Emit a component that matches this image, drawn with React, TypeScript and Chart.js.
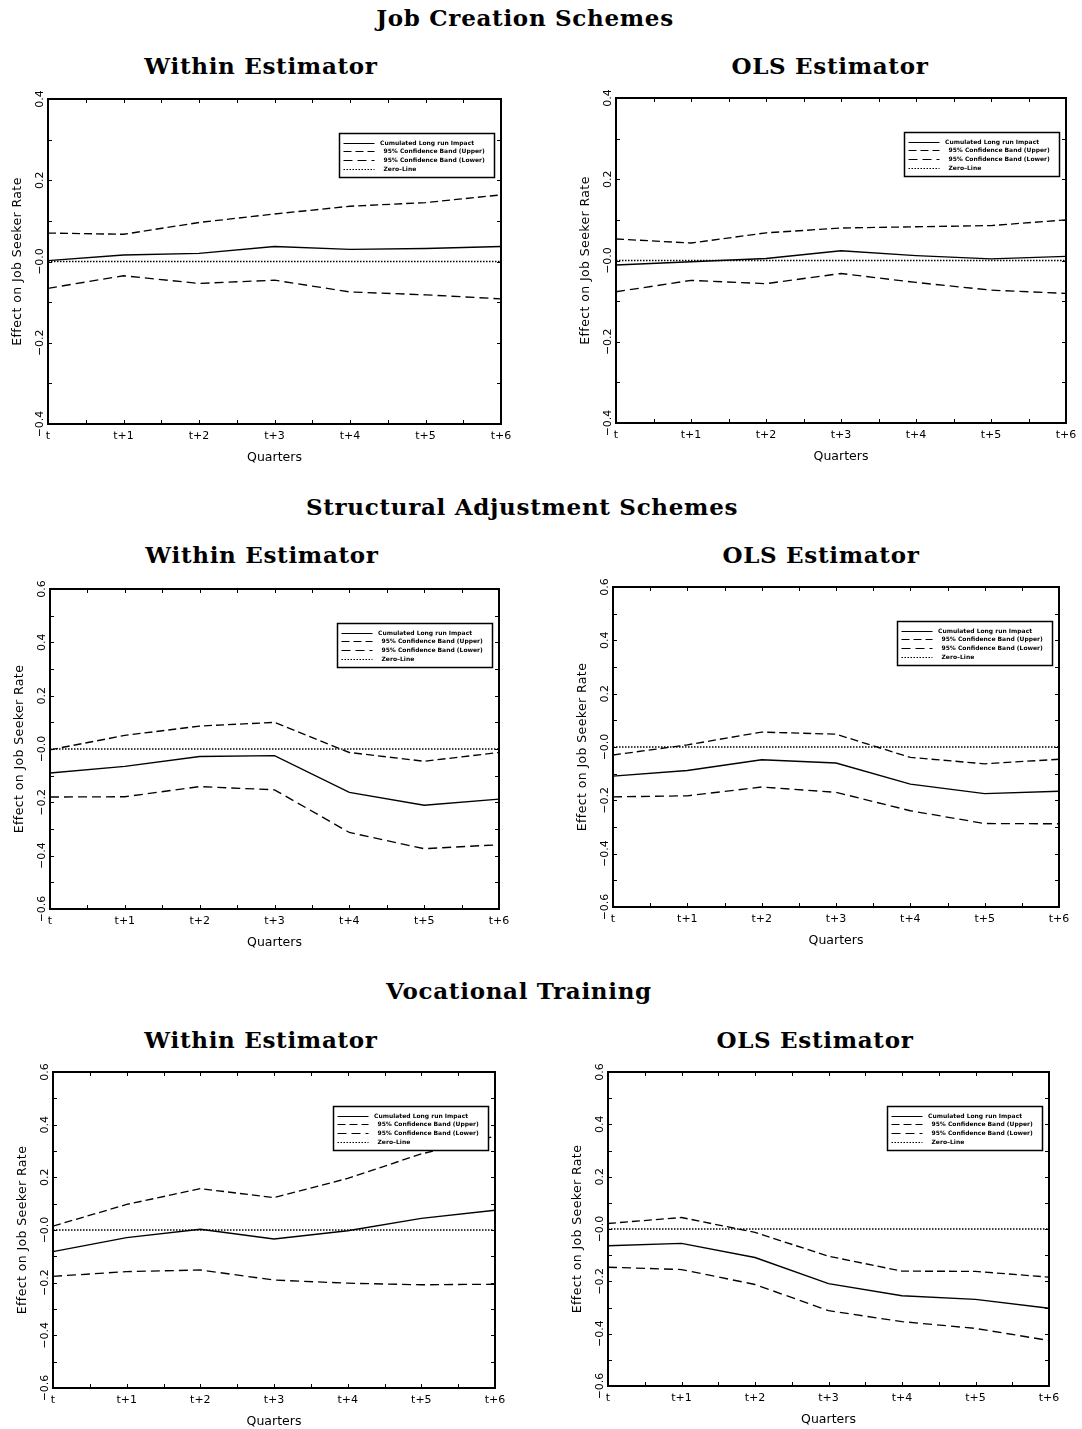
import React, { useEffect, useRef } from "react";
import { Chart, registerables } from "chart.js";

Chart.register(...registerables);

// ---------- data ----------
const quarters = ["t", "t+1", "t+2", "t+3", "t+4", "t+5", "t+6"];
const zeroLine = [0, 0, 0, 0, 0, 0, 0];

const legendLabels = [
  "Cumulated Long run Impact",
  "95% Confidence Band (Upper)",
  "95% Confidence Band (Lower)",
  "Zero\u2013Line",
];

const sectionTitles = ["Job Creation Schemes", "Structural Adjustment Schemes", "Vocational Training"];
const estimatorTitles = ["Within Estimator", "OLS Estimator"];
const xAxisTitle = "Quarters";
const yAxisTitle = "Effect on Job Seeker Rate";

const yTicksNarrow = [-0.4, -0.2, 0, 0.2, 0.4];
const yTickLabelsNarrow = ["\u22120.4", "\u22120.2", "\u22120.0", "0.2", "0.4"];
const yTicksWide = [-0.6, -0.4, -0.2, 0, 0.2, 0.4, 0.6];
const yTickLabelsWide = ["\u22120.6", "\u22120.4", "\u22120.2", "\u22120.0", "0.2", "0.4", "0.6"];

// Job Creation Schemes
const jcWithinImpact = [0.002, 0.016, 0.02, 0.037, 0.03, 0.032, 0.037];
const jcWithinUpper = [0.07, 0.067, 0.096, 0.117, 0.136, 0.145, 0.164];
const jcWithinLower = [-0.066, -0.035, -0.054, -0.046, -0.075, -0.082, -0.092];

const jcOlsImpact = [-0.011, -0.003, 0.005, 0.024, 0.012, 0.004, 0.01];
const jcOlsUpper = [0.053, 0.043, 0.068, 0.08, 0.083, 0.086, 0.1];
const jcOlsLower = [-0.077, -0.049, -0.057, -0.032, -0.054, -0.073, -0.081];

// Structural Adjustment Schemes
const saWithinImpact = [-0.09, -0.065, -0.028, -0.025, -0.163, -0.211, -0.188];
const saWithinUpper = [-0.003, 0.051, 0.086, 0.1, -0.013, -0.046, -0.013];
const saWithinLower = [-0.18, -0.179, -0.141, -0.153, -0.313, -0.374, -0.359];

const saOlsImpact = [-0.109, -0.088, -0.048, -0.06, -0.139, -0.175, -0.166];
const saOlsUpper = [-0.03, 0.008, 0.056, 0.048, -0.039, -0.063, -0.046];
const saOlsLower = [-0.187, -0.183, -0.15, -0.17, -0.239, -0.287, -0.288];

// Vocational Training
const vtWithinImpact = [-0.082, -0.029, 0.003, -0.034, -0.003, 0.044, 0.075];
const vtWithinUpper = [0.015, 0.097, 0.157, 0.123, 0.196, 0.289, 0.356];
const vtWithinLower = [-0.176, -0.158, -0.152, -0.19, -0.202, -0.208, -0.206];

const vtOlsImpact = [-0.064, -0.055, -0.109, -0.209, -0.255, -0.269, -0.303];
const vtOlsUpper = [0.021, 0.044, -0.013, -0.104, -0.161, -0.162, -0.184];
const vtOlsLower = [-0.146, -0.155, -0.212, -0.312, -0.354, -0.38, -0.426];

// ---------- layout / style ----------
type Rect = { l: number; t: number; r: number; b: number };

type PanelSpec = {
  rect: Rect;
  yMin: number;
  yMax: number;
  yTicks: number[];
  yLabels: string[];
  impact: number[];
  upper: number[];
  lower: number[];
  padB: number;
};

const panels: PanelSpec[] = [
  { rect: { l: 48, t: 99, r: 501, b: 424 }, yMin: -0.4, yMax: 0.4, yTicks: yTicksNarrow, yLabels: yTickLabelsNarrow, impact: jcWithinImpact, upper: jcWithinUpper, lower: jcWithinLower, padB: 44 },
  { rect: { l: 616, t: 98, r: 1066, b: 423 }, yMin: -0.4, yMax: 0.4, yTicks: yTicksNarrow, yLabels: yTickLabelsNarrow, impact: jcOlsImpact, upper: jcOlsUpper, lower: jcOlsLower, padB: 44 },
  { rect: { l: 50, t: 589, r: 499, b: 909 }, yMin: -0.6, yMax: 0.6, yTicks: yTicksWide, yLabels: yTickLabelsWide, impact: saWithinImpact, upper: saWithinUpper, lower: saWithinLower, padB: 44 },
  { rect: { l: 613, t: 587, r: 1059, b: 907 }, yMin: -0.6, yMax: 0.6, yTicks: yTicksWide, yLabels: yTickLabelsWide, impact: saOlsImpact, upper: saOlsUpper, lower: saOlsLower, padB: 44 },
  { rect: { l: 53, t: 1072, r: 495, b: 1388 }, yMin: -0.6, yMax: 0.6, yTicks: yTicksWide, yLabels: yTickLabelsWide, impact: vtWithinImpact, upper: vtWithinUpper, lower: vtWithinLower, padB: 40 },
  { rect: { l: 608, t: 1072, r: 1049, b: 1386 }, yMin: -0.6, yMax: 0.6, yTicks: yTicksWide, yLabels: yTickLabelsWide, impact: vtOlsImpact, upper: vtOlsUpper, lower: vtOlsLower, padB: 40 },
];

const sectionPos = [
  { x: 525, y: 17 },
  { x: 522, y: 506 },
  { x: 519, y: 990 },
];
const estimatorPos = [
  [{ x: 261, y: 65 }, { x: 830, y: 65 }],
  [{ x: 262, y: 554 }, { x: 821, y: 554 }],
  [{ x: 261, y: 1039 }, { x: 815, y: 1039 }],
];

const PAD_L = 44;
const PAD_R = 14;
const PAD_T = 8;
const MINOR_Y = 0.1;
const TICK_LEN = 4;
const UPPER_DASH = [8, 4];
const LOWER_DASH = [9, 5];
const ZERO_DASH = [1.5, 1.5];
const LINE_W = 1.35;
const AXIS_FONT = '"DejaVu Sans", sans-serif';
const TITLE_FONT = '"DejaVu Serif", serif';

function makeDecor(p: PanelSpec) {
  return {
    id: "panelDecor",
    afterDraw(chart: any) {
      const ctx: CanvasRenderingContext2D = chart.ctx;
      const { left, right, top, bottom } = chart.chartArea;
      const xs = chart.scales.x;
      const ys = chart.scales.y;
      const seg = (x1: number, y1: number, x2: number, y2: number) => {
        ctx.beginPath();
        ctx.moveTo(x1, y1);
        ctx.lineTo(x2, y2);
        ctx.stroke();
      };
      ctx.save();
      ctx.strokeStyle = "#000";
      ctx.fillStyle = "#000";
      ctx.lineWidth = 1;
      ctx.setLineDash([]);

      // ticks on y (left and right)
      const nY = Math.round((p.yMax - p.yMin) / MINOR_Y);
      for (let i = 0; i <= nY; i++) {
        const py = Math.round(ys.getPixelForValue(p.yMin + i * MINOR_Y)) + 0.5;
        seg(left, py, left + TICK_LEN, py);
        seg(right - TICK_LEN, py, right, py);
      }
      // ticks on x (bottom and top), every half quarter
      const nX = (quarters.length - 1) * 2;
      for (let i = 0; i <= nX; i++) {
        const px = Math.round(xs.getPixelForValue(i / 2)) + 0.5;
        seg(px, bottom, px, bottom - TICK_LEN);
        seg(px, top, px, top + TICK_LEN);
      }
      // frame
      ctx.lineWidth = 2;
      ctx.strokeRect(left, top, right - left, bottom - top);

      // y tick labels (rotated)
      ctx.font = `11px ${AXIS_FONT}`;
      ctx.textAlign = "center";
      ctx.textBaseline = "middle";
      p.yTicks.forEach((v, i) => {
        const py = ys.getPixelForValue(v);
        ctx.save();
        ctx.translate(left - 8, py);
        ctx.rotate(-Math.PI / 2);
        ctx.fillText(p.yLabels[i], 0, 0);
        ctx.restore();
      });
      // x tick labels
      quarters.forEach((q, i) => {
        ctx.fillText(q, xs.getPixelForValue(i), bottom + 12);
      });
      // axis titles
      ctx.font = `12.5px ${AXIS_FONT}`;
      ctx.fillText(xAxisTitle, (left + right) / 2, bottom + 34);
      ctx.save();
      ctx.translate(left - 30, (top + bottom) / 2);
      ctx.rotate(-Math.PI / 2);
      (ctx as any).letterSpacing = "0.4px";
      ctx.fillText(yAxisTitle, 0, 0);
      ctx.restore();

      // legend box
      const lw = 155;
      const lh = 44;
      const bx = Math.round(right - 7 - lw) + 0.5;
      const by = Math.round(top + 34) + 0.5;
      ctx.fillStyle = "#fff";
      ctx.fillRect(bx, by, lw, lh);
      ctx.lineWidth = 1.5;
      ctx.strokeRect(bx, by, lw, lh);
      const dashes = [[], UPPER_DASH, LOWER_DASH, ZERO_DASH];
      const textX = [40.5, 44, 44, 44];
      ctx.fillStyle = "#000";
      ctx.font = `bold 6px ${AXIS_FONT}`;
      ctx.textAlign = "left";
      for (let k = 0; k < 4; k++) {
        const yy = Math.round(by + 9 + k * 8.7) + 0.5;
        ctx.lineWidth = 1;
        ctx.setLineDash(dashes[k]);
        seg(bx + 4, yy, bx + 35, yy);
        ctx.setLineDash([]);
        ctx.fillText(legendLabels[k], bx + textX[k], yy);
      }
      ctx.restore();
    },
  };
}

function PanelChart({ spec }: { spec: PanelSpec }) {
  const ref = useRef<HTMLCanvasElement | null>(null);
  const { rect, padB } = spec;
  const w = rect.r - rect.l + PAD_L + PAD_R;
  const h = rect.b - rect.t + PAD_T + padB;

  useEffect(() => {
    if (!ref.current) return;
    const ds = (data: number[], dash: number[], width: number) => ({
      data,
      borderColor: "#000",
      borderWidth: width,
      borderDash: dash,
      pointRadius: 0,
      pointHoverRadius: 0,
      tension: 0,
      fill: false,
    });
    const chart = new Chart(ref.current, {
      type: "line",
      data: {
        labels: quarters,
        datasets: [
          { label: legendLabels[3], ...ds(zeroLine, ZERO_DASH, 1.4) },
          { label: legendLabels[2], ...ds(spec.lower, LOWER_DASH, LINE_W) },
          { label: legendLabels[1], ...ds(spec.upper, UPPER_DASH, LINE_W) },
          { label: legendLabels[0], ...ds(spec.impact, [], LINE_W) },
        ],
      },
      options: {
        responsive: false,
        animation: false,
        devicePixelRatio: 1,
        layout: { padding: { left: PAD_L, right: PAD_R, top: PAD_T, bottom: padB } },
        plugins: { legend: { display: false }, tooltip: { enabled: false } },
        events: [],
        scales: {
          x: { type: "category", offset: false, display: false },
          y: { type: "linear", min: spec.yMin, max: spec.yMax, display: false },
        },
      },
      plugins: [makeDecor(spec)],
    } as any);
    return () => chart.destroy();
  }, [spec]);

  return (
    <canvas
      ref={ref}
      width={w}
      height={h}
      style={{ position: "absolute", left: rect.l - PAD_L, top: rect.t - PAD_T, width: w, height: h }}
    />
  );
}

function Title({ text, x, y, size }: { text: string; x: number; y: number; size: number }) {
  return (
    <div
      style={{
        position: "absolute",
        left: x,
        top: y,
        transform: "translate(-50%, -50%)",
        whiteSpace: "nowrap",
        fontFamily: TITLE_FONT,
        fontWeight: "bold",
        fontSize: size,
        letterSpacing: "0.7px",
        lineHeight: 1,
        color: "#000",
      }}
    >
      {text}
    </div>
  );
}

export default function App() {
  useEffect(() => {
    document.body.style.margin = "0";
    document.documentElement.style.overflow = "hidden";
  }, []);
  return (
    <div
      style={{
        position: "absolute",
        left: 0,
        top: 0,
        width: 1082,
        height: 1429,
        overflow: "hidden",
        background: "#fff",
      }}
    >
      {sectionTitles.map((t, i) => (
        <Title key={"s" + i} text={t} x={sectionPos[i].x} y={sectionPos[i].y} size={23} />
      ))}
      {estimatorPos.map((row, r) =>
        row.map((pos, c) => (
          <Title key={"e" + r + c} text={estimatorTitles[c]} x={pos.x} y={pos.y} size={23} />
        ))
      )}
      {panels.map((p, i) => (
        <PanelChart key={i} spec={p} />
      ))}
    </div>
  );
}
